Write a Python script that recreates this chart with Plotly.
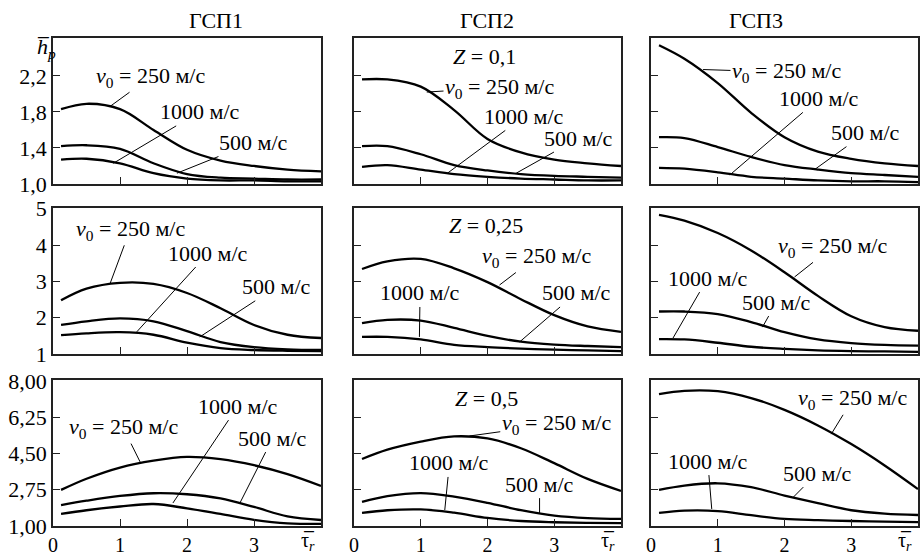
import plotly.graph_objects as go

# ---------------- data ----------------
X = [0.12, 0.5, 1.0, 1.5, 2.0, 2.5, 3.0, 3.5, 4.0]

titles = ["ГСП1", "ГСП2", "ГСП3"]
z_labels = ["Z = 0,1", "Z = 0,25", "Z = 0,5"]

# row 1 (Z = 0.1)
gsp1_z01_v250 = [1.83, 1.89, 1.83, 1.60, 1.38, 1.26, 1.20, 1.16, 1.14]
gsp1_z01_v500 = [1.42, 1.43, 1.39, 1.23, 1.11, 1.07, 1.06, 1.05, 1.05]
gsp1_z01_v1000 = [1.27, 1.28, 1.23, 1.12, 1.06, 1.04, 1.04, 1.03, 1.03]
gsp2_z01_v250 = [2.16, 2.16, 2.08, 1.82, 1.50, 1.35, 1.27, 1.23, 1.20]
gsp2_z01_v500 = [1.42, 1.42, 1.33, 1.21, 1.15, 1.11, 1.09, 1.08, 1.07]
gsp2_z01_v1000 = [1.19, 1.21, 1.16, 1.11, 1.08, 1.06, 1.05, 1.04, 1.04]
gsp3_z01_v250 = [2.54, 2.39, 2.12, 1.79, 1.52, 1.36, 1.28, 1.23, 1.20]
gsp3_z01_v500 = [1.52, 1.51, 1.41, 1.30, 1.21, 1.16, 1.12, 1.10, 1.08]
gsp3_z01_v1000 = [1.18, 1.17, 1.13, 1.08, 1.06, 1.04, 1.03, 1.03, 1.02]

# row 2 (Z = 0.25)
gsp1_z025_v250 = [2.48, 2.80, 2.96, 2.93, 2.68, 2.26, 1.80, 1.53, 1.44]
gsp1_z025_v500 = [1.80, 1.90, 1.98, 1.90, 1.63, 1.33, 1.19, 1.13, 1.11]
gsp1_z025_v1000 = [1.52, 1.57, 1.60, 1.53, 1.31, 1.16, 1.11, 1.09, 1.08]
gsp2_z025_v250 = [3.34, 3.55, 3.62, 3.36, 2.98, 2.51, 2.07, 1.76, 1.61]
gsp2_z025_v500 = [1.85, 1.94, 1.92, 1.72, 1.50, 1.34, 1.26, 1.22, 1.19]
gsp2_z025_v1000 = [1.47, 1.47, 1.40, 1.25, 1.19, 1.15, 1.12, 1.10, 1.08]
gsp3_z025_v250 = [4.83, 4.67, 4.33, 3.85, 3.25, 2.60, 2.04, 1.74, 1.64]
gsp3_z025_v500 = [2.17, 2.17, 2.10, 1.88, 1.60, 1.40, 1.30, 1.25, 1.23]
gsp3_z025_v1000 = [1.41, 1.40, 1.31, 1.20, 1.14, 1.10, 1.08, 1.07, 1.06]

# row 3 (Z = 0.5)
gsp1_z05_v250 = [2.74, 3.28, 3.82, 4.15, 4.33, 4.22, 3.93, 3.50, 2.93]
gsp1_z05_v500 = [2.01, 2.22, 2.45, 2.58, 2.53, 2.33, 1.92, 1.46, 1.29]
gsp1_z05_v1000 = [1.58, 1.76, 1.94, 2.06, 1.85, 1.58, 1.30, 1.13, 1.10]
gsp2_z05_v250 = [4.23, 4.68, 5.07, 5.32, 5.22, 4.75, 4.03, 3.27, 2.69]
gsp2_z05_v500 = [2.16, 2.44, 2.59, 2.42, 2.12, 1.76, 1.50, 1.38, 1.34]
gsp2_z05_v1000 = [1.63, 1.76, 1.80, 1.64, 1.39, 1.24, 1.18, 1.15, 1.14]
gsp3_z05_v250 = [7.36, 7.52, 7.50, 7.17, 6.60, 5.85, 4.95, 3.92, 2.78]
gsp3_z05_v500 = [2.74, 2.95, 3.06, 2.87, 2.47, 2.10, 1.76, 1.60, 1.53]
gsp3_z05_v1000 = [1.63, 1.74, 1.72, 1.52, 1.34, 1.28, 1.24, 1.21, 1.19]

row_yticks = [[1.0, 1.4, 1.8, 2.2], [1, 2, 3, 4, 5], [1.0, 2.75, 4.5, 6.25, 8.0]]
row_yticktext = [["1,0", "1,4", "1,8", "2,2"], ["1", "2", "3", "4", "5"],
                 ["1,00", "2,75", "4,50", "6,25", "8,00"]]
row_yrange = [[1.0, 2.62], [1.0, 5.02], [1.0, 8.04]]
x_ticks = [0, 1, 2, 3]
x_ticktext = ["0", "1", "2", "3"]

series = [
    [[gsp1_z01_v250, gsp1_z01_v500, gsp1_z01_v1000],
     [gsp2_z01_v250, gsp2_z01_v500, gsp2_z01_v1000],
     [gsp3_z01_v250, gsp3_z01_v500, gsp3_z01_v1000]],
    [[gsp1_z025_v250, gsp1_z025_v500, gsp1_z025_v1000],
     [gsp2_z025_v250, gsp2_z025_v500, gsp2_z025_v1000],
     [gsp3_z025_v250, gsp3_z025_v500, gsp3_z025_v1000]],
    [[gsp1_z05_v250, gsp1_z05_v500, gsp1_z05_v1000],
     [gsp2_z05_v250, gsp2_z05_v500, gsp2_z05_v1000],
     [gsp3_z05_v250, gsp3_z05_v500, gsp3_z05_v1000]],
]

V250 = "<i>v</i><sub>0</sub> = 250 м/с"
V500 = "500 м/с"
V1000 = "1000 м/с"
labels = [
    [[(V250, 1.46, 2.19, 0.85, 1.86), (V1000, 2.19, 1.80, 0.90, 1.23), (V500, 2.99, 1.46, 1.85, 1.12)],
     [(V250, 2.18, 2.07, 1.09, 2.02), (V1000, 2.55, 1.75, 1.40, 1.12), (V500, 3.37, 1.51, 2.43, 1.12)],
     [(V250, 2.03, 2.24, 0.78, 2.27), (V1000, 2.52, 1.95, 1.18, 1.10), (V500, 3.22, 1.57, 2.45, 1.16)]],
    [[(V250, 1.15, 4.42, 0.85, 2.93), (V1000, 2.32, 3.78, 1.25, 1.61), (V500, 3.34, 2.85, 2.19, 1.47)],
     [(V250, 2.73, 3.67, 2.18, 2.90), (V1000, 0.99, 2.68, 0.98, 1.47), (V500, 3.33, 2.68, 2.48, 1.33)],
     [(V250, 2.72, 3.95, 2.15, 3.12), (V1000, 0.85, 3.09, 0.33, 1.44), (V500, 1.88, 2.43, 1.67, 1.74)]],
    [[(V250, 1.05, 5.72, 1.30, 4.09), (V1000, 2.76, 6.78, 1.79, 2.11), (V500, 3.28, 5.24, 2.79, 2.11)],
     [(V250, 3.03, 5.92, 1.73, 5.34), (V1000, 1.43, 4.04, 1.36, 1.77), (V500, 2.78, 3.02, 2.78, 1.63)],
     [(V250, 3.02, 7.11, 2.70, 5.43), (V1000, 0.85, 4.13, 0.91, 1.82), (V500, 2.49, 3.55, 2.12, 2.35)]],
]
z_pos = [(1.96, 2.41), (1.98, 4.55), (1.98, 7.17)]

# ---------------- layout geometry ----------------
W, H = 920, 556
col_px = [(53, 321), (354, 621), (651, 918)]
row_px = [(38, 184), (208, 354), (380, 526)]
FONT = "Liberation Serif, Times New Roman, serif"
FS = 22
FS_X = 20


def px_x(p):
    return p / W


def px_y(p):
    return 1 - p / H


fig = go.Figure()
layout = dict(
    width=W, height=H, margin=dict(l=0, r=0, t=0, b=0, pad=0, autoexpand=False),
    plot_bgcolor="white", paper_bgcolor="white", showlegend=False,
    font=dict(family=FONT, size=FS, color="black"),
)
annotations = []

for r in range(3):
    for c in range(3):
        idx = r * 3 + c + 1
        xa = "xaxis" if idx == 1 else f"xaxis{idx}"
        ya = "yaxis" if idx == 1 else f"yaxis{idx}"
        xr = "x" if idx == 1 else f"x{idx}"
        yr = "y" if idx == 1 else f"y{idx}"
        x0, x1 = col_px[c]
        y0, y1 = row_px[r]
        bottom = r == 2
        layout[xa] = dict(
            domain=[px_x(x0), px_x(x1)], anchor=yr, range=[0, 4], automargin=False,
            showgrid=False, zeroline=False, showline=True, mirror=True,
            linecolor="#222", linewidth=1.5,
            ticks="inside", ticklen=7, tickwidth=1.2, tickcolor="#222",
            tickvals=x_ticks if bottom else [1, 2, 3],
            ticktext=x_ticktext if bottom else ["1", "2", "3"],
            showticklabels=bottom, ticklabelstandoff=0,
            tickfont=dict(family=FONT, size=FS_X, color="black"),
        )
        layout[ya] = dict(
            domain=[px_y(y1), px_y(y0)], anchor=xr, range=row_yrange[r], automargin=False,
            showgrid=False, zeroline=False, showline=True, mirror=True,
            linecolor="#222", linewidth=1.5,
            ticks="inside", ticklen=7, tickwidth=1.2, tickcolor="#222",
            tickvals=row_yticks[r], ticktext=row_yticktext[r],
            showticklabels=(c == 0),
            tickfont=dict(family=FONT, size=FS, color="black"),
        )
        for s in series[r][c]:
            fig.add_trace(go.Scatter(
                x=X, y=s, mode="lines", xaxis=xr, yaxis=yr,
                line=dict(color="black", width=2.3, shape="spline", smoothing=1.0),
                hoverinfo="skip",
            ))
        for (txt, tx, ty, px, py) in labels[r][c]:
            annotations.append(dict(
                text=txt, x=px, y=py, xref=xr, yref=yr,
                ax=tx, ay=ty, axref=xr, ayref=yr,
                showarrow=True, arrowhead=0, arrowwidth=1, arrowcolor="black",
                font=dict(family=FONT, size=FS, color="black"),
            ))
        if c == 1:
            annotations.append(dict(
                text="<i>" + z_labels[r][0] + "</i>" + z_labels[r][1:],
                x=z_pos[r][0], y=z_pos[r][1], xref=xr, yref=yr,
                showarrow=False, font=dict(family=FONT, size=FS, color="black"),
            ))
        if bottom:
            annotations.append(dict(
                text="τ̅<sub><i>r</i></sub>", x=3.8, y=px_y(541),
                xref=xr, yref="paper", yanchor="middle", showarrow=False,
                font=dict(family=FONT, size=FS_X, color="black"),
            ))

for c in range(3):
    x0, x1 = col_px[c]
    annotations.append(dict(
        text=titles[c], x=px_x((x0 + x1) / 2), y=px_y(20), xref="paper", yref="paper",
        yanchor="middle", showarrow=False, font=dict(family=FONT, size=FS, color="black"),
    ))

annotations.append(dict(
    text="<i>h̅</i><sub><i>p</i></sub>", x=px_x(35), y=px_y(48), xref="paper", yref="paper",
    yanchor="middle", showarrow=False, font=dict(family=FONT, size=FS, color="black"),
))

layout["annotations"] = annotations
fig.update_layout(**layout)
fig.write_html(
    "out.html",
    config={"displayModeBar": False},
    post_script="document.body.style.margin='0';document.body.style.overflow='hidden';",
)
